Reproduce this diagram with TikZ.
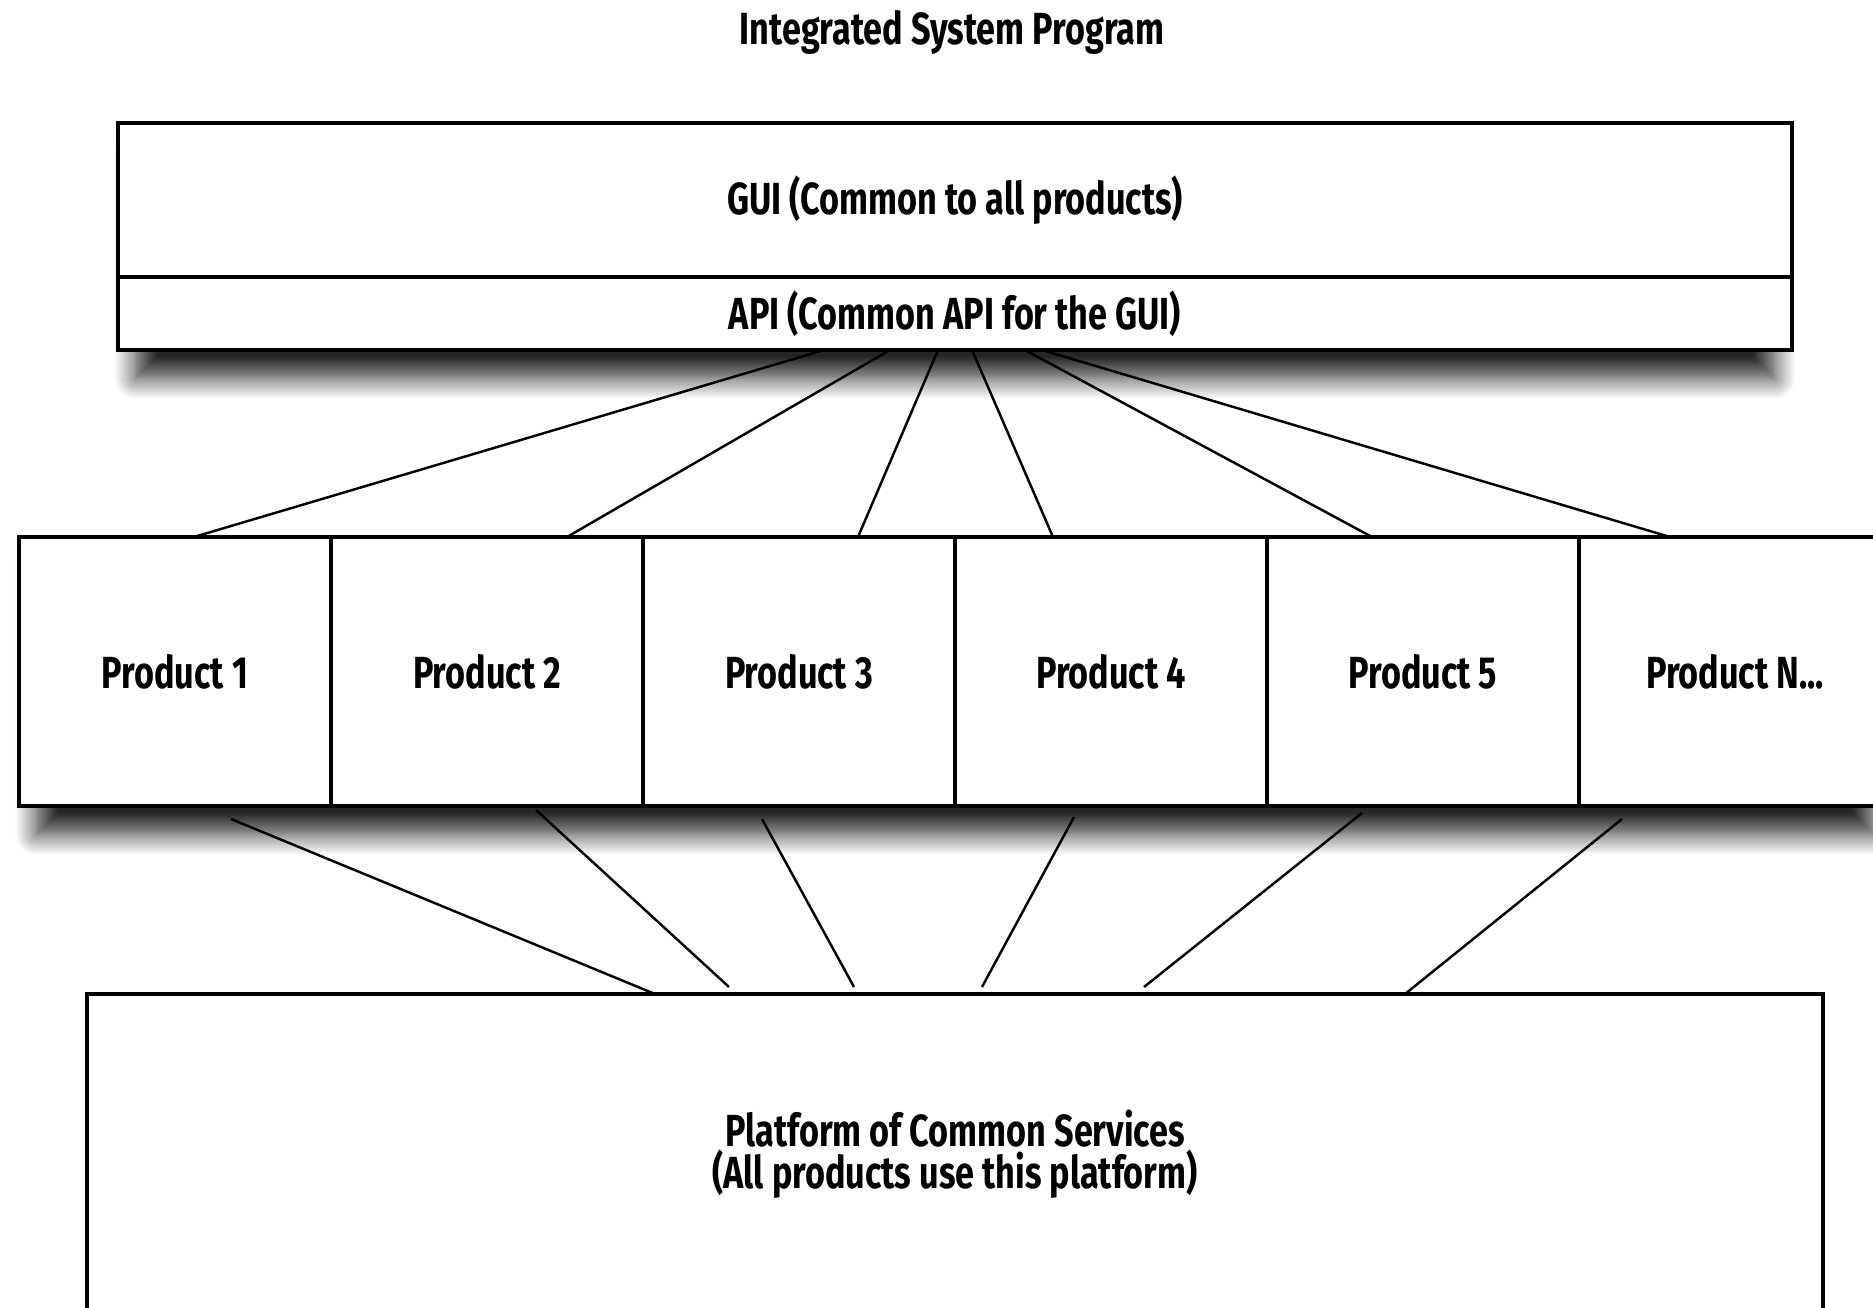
\documentclass[tikz,border=0pt]{standalone}
\usepackage{fontspec}
\setmainfont{Fira Sans}[FakeStretch=0.76]
\usetikzlibrary{positioning,shadows.blur,backgrounds}
\begin{document}
\begin{tikzpicture}[x=1cm,y=1cm,
  box/.style={draw, line width=0.9pt, fill=white, rectangle, inner sep=0pt, outer sep=0pt},
  prod/.style={box, minimum width=3.12cm, minimum height=2.69cm},
  drop/.style={fill=white, blur shadow={shadow xshift=0pt, shadow yshift=-8pt, shadow blur radius=6pt,
    shadow blur steps=12, shadow opacity=85}},
  link/.style={line width=0.7pt},
  every node/.style={font=\fontsize{12.8}{12}\selectfont\bfseries}]
\useasboundingbox (0,0) rectangle (18.73,13.07);

\node (title) at (9.52,12.75) {Integrated System Program};

\node[box, minimum width=16.74cm, minimum height=1.54cm] (gui) at (9.55,11.07) {GUI (Common to all products)};
\node[box, minimum width=16.74cm, minimum height=0.73cm, below=0cm of gui] (api) {API (Common API for the GUI)};

\node[prod] (p1) at (1.75,6.355) {Product 1};
\node[prod, right=0cm of p1] (p2) {Product 2};
\node[prod, right=0cm of p2] (p3) {Product 3};
\node[prod, right=0cm of p3] (p4) {Product 4};
\node[prod, right=0cm of p4] (p5) {Product 5};
\node[prod, right=0cm of p5] (p6) {Product N...};

\node[box, minimum width=17.36cm, minimum height=3.2cm, align=center] (plat) at (9.55,1.53)
  {Platform of Common Services\\(All products use this platform)};

% shadows under the stacks
\begin{scope}[on background layer]
\path[drop] ([xshift=5pt]gui.north west) rectangle ([xshift=-5pt]api.south east);
\path[drop] ([xshift=5pt]p1.north west) rectangle ([xshift=-5pt]p6.south east);
\end{scope}

% API to products
\draw[link] ([xshift=-1.31cm]api.south) -- ([xshift=0.19cm]p1.north);
\draw[link] ([xshift=-0.65cm]api.south) -- ([xshift=0.80cm]p2.north);
\draw[link] ([xshift=-0.17cm]api.south) -- ([xshift=0.59cm]p3.north);
\draw[link] ([xshift=0.17cm]api.south) -- ([xshift=-0.58cm]p4.north);
\draw[link] ([xshift=0.70cm]api.south) -- ([xshift=-0.51cm]p5.north);
\draw[link] ([xshift=0.87cm]api.south) -- ([xshift=-0.65cm]p6.north);

% products to platform
\draw[link] ([shift={(0.56,-0.13)}]p1.south) -- ([shift={(-3.00,0)}]plat.north);
\draw[link] ([shift={(0.49,-0.04)}]p2.south) -- ([shift={(-2.26,0.07)}]plat.north);
\draw[link] ([shift={(-0.37,-0.13)}]p3.south) -- ([shift={(-1.01,0.07)}]plat.north);
\draw[link] ([shift={(-0.37,-0.11)}]p4.south) -- ([shift={(0.27,0.07)}]plat.north);
\draw[link] ([shift={(-0.61,-0.07)}]p5.south) -- ([shift={(1.89,0.07)}]plat.north);
\draw[link] ([shift={(-1.13,-0.13)}]p6.south) -- ([shift={(4.50,0)}]plat.north);
\end{tikzpicture}
\end{document}
